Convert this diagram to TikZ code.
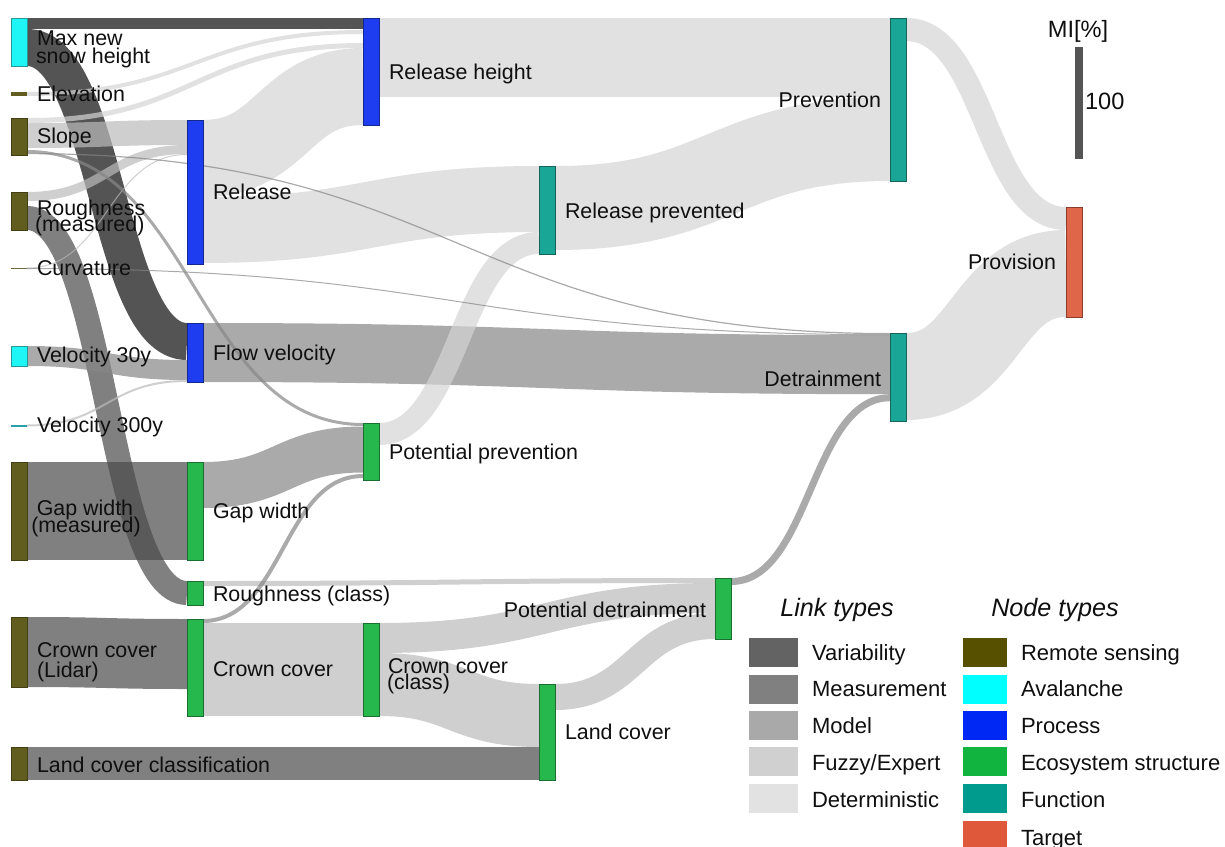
\documentclass[tikz,border=0pt]{standalone}
\usepackage{fontspec}
\setmainfont{Liberation Sans}
\usetikzlibrary{calc}
\pgfdeclarelayer{background}
\pgfsetlayers{background,main}

% node fills and borders
\definecolor{rsFill}{RGB}{96,93,30}\definecolor{rsDraw}{RGB}{66,64,18}
\definecolor{avFill}{RGB}{30,246,246}\definecolor{avDraw}{RGB}{40,150,150}
\definecolor{prFill}{RGB}{30,60,240}\definecolor{prDraw}{RGB}{20,40,140}
\definecolor{ecFill}{RGB}{38,184,76}\definecolor{ecDraw}{RGB}{25,110,50}
\definecolor{fnFill}{RGB}{26,166,150}\definecolor{fnDraw}{RGB}{20,100,90}
\definecolor{tgFill}{RGB}{224,102,74}\definecolor{tgDraw}{RGB}{140,60,45}
\definecolor{vtFill}{RGB}{40,160,165}
% link colours (drawn at 70% opacity)
\definecolor{cVar}{RGB}{12,12,12}
\definecolor{cMeas}{RGB}{74,74,74}
\definecolor{cModel}{RGB}{134,134,134}
\definecolor{cFuzzy}{RGB}{186,186,186}
\definecolor{cDet}{RGB}{212,212,212}
% legend swatches
\definecolor{sVar}{RGB}{99,99,99}
\definecolor{sMeas}{RGB}{128,128,128}
\definecolor{sModel}{RGB}{169,169,169}
\definecolor{sFuzzy}{RGB}{208,208,208}
\definecolor{sDet}{RGB}{226,226,226}
\definecolor{sRs}{RGB}{87,80,0}
\definecolor{sAv}{RGB}{0,255,255}
\definecolor{sPr}{RGB}{0,40,245}
\definecolor{sEc}{RGB}{16,180,62}
\definecolor{sFn}{RGB}{0,155,140}
\definecolor{sTg}{RGB}{224,88,58}
\definecolor{txt}{RGB}{15,15,15}
\definecolor{scalebar}{RGB}{85,85,85}

\tikzset{
  bar/.style={rectangle, inner sep=0pt, outer sep=0pt, minimum width=8pt,
    anchor=north west, line width=0.5pt},
  len/.style={minimum height=#1*0.5pt},
  rsn/.style={bar, fill=rsFill, draw=rsDraw},
  avn/.style={bar, fill=avFill, draw=avDraw},
  prn/.style={bar, fill=prFill, draw=prDraw},
  ecn/.style={bar, fill=ecFill, draw=ecDraw},
  fnn/.style={bar, fill=fnFill, draw=fnDraw},
  tgn/.style={bar, fill=tgFill, draw=tgDraw},
  lnk/.style={draw opacity=0.7, line cap=butt},
  var/.style={lnk, draw=cVar},
  meas/.style={lnk, draw=cMeas},
  model/.style={lnk, draw=cModel},
  fuzzy/.style={lnk, draw=cFuzzy},
  det/.style={lnk, draw=cDet},
  lbl/.style={inner sep=0pt, outer sep=0pt, anchor=base west, text=txt,
    font=\fontsize{10.7}{12}\selectfont},
  lblr/.style={lbl, anchor=base east},
  lblc/.style={lbl, anchor=base},
  leglbl/.style={lbl, font=\fontsize{11}{13}\selectfont},
  legtitle/.style={lbl, anchor=base, font=\fontsize{12.6}{14}\selectfont\itshape},
  swatch/.style={rectangle, inner sep=0pt, outer sep=0pt, anchor=north west,
    minimum height=14.5pt},
}

% sankey link as a thick stroked curve: style, source node, offset below
% its top, target node, offset below its top, link width (pixel units)
\newcommand\sankeylink[6]{%
  \draw[#1, line width=#6*0.5pt] let
    \p1=($(#2.north east)+(0,#3+#6/2)$), \p2=($(#4.north west)+(0,#5+#6/2)$),
    \p5=($(\p1)!0.5!(\p2)$) in
    (\p1) .. controls (\x5,\y1) and (\x5,\y2) .. (\p2);}

\begin{document}
\begin{tikzpicture}[x=0.5pt, y=-0.5pt]
\useasboundingbox (0,0) rectangle (1225,846);

% ---------- nodes ----------
% column 1
\node[avn, len=48] (msh) at (11,18) {};
\node[rsn, len=4, draw=none] (elev) at (11,92) {};
\node[rsn, len=37] (slope) at (11,118) {};
\node[rsn, len=38] (rough) at (11,192) {};
\node[rsn, len=1.5, draw=none, fill=rsFill!70!gray] (curv) at (11,267.5) {};
\node[avn, len=20] (v30) at (11,346) {};
\node[avn, len=2.5, draw=none, fill=vtFill] (v300) at (11,424.5) {};
\node[rsn, len=98] (gapm) at (11,462) {};
\node[rsn, len=70] (ccl) at (11,617) {};
\node[rsn, len=33] (lcc) at (11,747) {};
% column 2
\node[prn, len=144] (rel) at (187,120) {};
\node[prn, len=59] (flow) at (187,323) {};
\node[ecn, len=98] (gap) at (187,462) {};
\node[ecn, len=24] (rcl) at (187,581) {};
\node[ecn, len=97] (cc) at (187,619) {};
% column 3
\node[prn, len=107] (relh) at (363,18) {};
\node[ecn, len=57] (pp) at (363,423) {};
\node[ecn, len=93] (ccc) at (363,623) {};
% column 4
\node[fnn, len=88] (relp) at (539,166) {};
\node[ecn, len=96] (lc) at (539,684) {};
% column 5
\node[ecn, len=61] (pd) at (715,578) {};
% column 6
\node[fnn, len=163] (prev) at (890,18) {};
\node[fnn, len=88] (detr) at (890,333) {};
% column 7
\node[tgn, len=110] (prov) at (1066,207) {};

% ---------- links ----------
\begin{pgfonlayer}{background}
% variability
\sankeylink{var}{msh}{0}{relh}{0}{10.5}
\sankeylink{var}{msh}{11}{flow}{0}{37}
% measurement
\sankeylink{meas}{rough}{14}{rcl}{0}{24}
\sankeylink{meas}{gapm}{0}{gap}{0}{98}
\sankeylink{meas}{ccl}{0}{cc}{0}{70}
\sankeylink{meas}{lcc}{0}{lc}{63}{33}
% model
\sankeylink{model}{v30}{0}{flow}{37}{20}
\sankeylink{model}{flow}{0}{detr}{2.2}{59}
\sankeylink{model}{gap}{0}{pp}{3.5}{46}
\sankeylink{model}{pd}{0}{detr}{61.2}{7}
% fuzzy / expert
\sankeylink{fuzzy}{slope}{5}{rel}{0}{25}
\sankeylink{fuzzy}{rough}{0}{rel}{25}{9}
\sankeylink{fuzzy}{cc}{4}{ccc}{0}{93}
\sankeylink{fuzzy}{ccc}{0}{pd}{5}{30}
\sankeylink{fuzzy}{ccc}{30}{lc}{0}{63}
\sankeylink{fuzzy}{lc}{0}{pd}{35}{26}
\sankeylink{fuzzy}{rcl}{0}{pd}{0}{5}
% deterministic
\sankeylink{det}{elev}{0}{relh}{12}{4}
\sankeylink{det}{slope}{0}{relh}{25}{5}
\sankeylink{det}{rel}{0}{relh}{30}{77}
\sankeylink{det}{rel}{77}{relp}{0}{66}
\sankeylink{det}{pp}{0}{relp}{66}{22}
\sankeylink{det}{relh}{0}{prev}{0}{79}
\sankeylink{det}{relp}{0}{prev}{79}{84}
\sankeylink{det}{prev}{0}{prov}{0}{23}
\sankeylink{det}{detr}{0}{prov}{23}{87}
% thin links
\sankeylink{fuzzy}{curv}{0}{rel}{34}{1}
\sankeylink{fuzzy}{v300}{0}{flow}{57}{2}
\sankeylink{model}{slope}{32}{pp}{0}{3}
\sankeylink{model}{cc}{0}{pp}{51}{4}
\sankeylink{model}{slope}{35}{detr}{0}{1.2}
\sankeylink{model}{curv}{0.5}{detr}{1.2}{1}
\end{pgfonlayer}

% ---------- labels ----------
\node[lbl] (t-msh1) at (37,46) {Max new};
\node[lbl] (t-msh2) at (36,63) {snow height};
\node[lbl] (t-elev) at (37,101) {Elevation};
\node[lbl] (t-slope) at (37,143.5) {Slope};
\node[lbl] (t-rough1) at (37,215) {Roughness};
\node[lbl] (t-rough2) at (35,231.5) {(measured)};
\node[lbl] (t-curv) at (37,275.5) {Curvature};
\node[lbl] (t-v30) at (37,362.5) {Velocity 30y};
\node[lbl] (t-v300) at (37,432.5) {Velocity 300y};
\node[lblc] (t-gapm1) at (85,515.5) {Gap width};
\node[lblc] (t-gapm2) at (86,532) {(measured)};
\node[lbl] (t-ccl1) at (37,657) {Crown cover};
\node[lbl] (t-ccl2) at (37,677) {(Lidar)};
\node[lbl] (t-lcc) at (37,772) {Land cover classification};

\node[lbl] (t-rel) at (213,199.5) {Release};
\node[lbl] (t-flow) at (213,360) {Flow velocity};
\node[lbl] (t-gap) at (213,518.5) {Gap width};
\node[lbl] (t-rcl) at (213,601) {Roughness (class)};
\node[lbl] (t-cc) at (213,676) {Crown cover};

\node[lbl] (t-relh) at (389,79) {Release height};
\node[lbl] (t-pp) at (389,459) {Potential prevention};
\node[lbl] (t-ccc1) at (388,673) {Crown cover};
\node[lbl] (t-ccc2) at (387,689.5) {(class)};

\node[lbl] (t-relp) at (565,218.5) {Release prevented};
\node[lbl] (t-lc) at (565,739.5) {Land cover};

\node[lblr] (t-pd) at (706,617) {Potential detrainment};
\node[lblr] (t-prev) at (881,107) {Prevention};
\node[lblr] (t-detr) at (881,386) {Detrainment};
\node[lblr] (t-prov) at (1056,269.5) {Provision};

% ---------- scale ----------
\node[rectangle, inner sep=0pt, outer sep=0pt, anchor=north west, fill=scalebar,
  minimum width=4pt, minimum height=56pt] (mibar) at (1075,47) {};
\node[lblc, font=\fontsize{11.8}{13}\selectfont] (t-mi) at (1078,37.5) {MI[\%]};
\node[lbl, font=\fontsize{11.8}{13}\selectfont] (t-100) at (1085,109.5) {100};

% ---------- legend ----------
\node[legtitle] (lt-link) at (837,616) {Link types};
\node[legtitle] (lt-node) at (1055,616) {Node types};

\node[swatch, minimum width=24.5pt, fill=sVar] (sw-var) at (749,638) {};
\node[swatch, minimum width=24.5pt, fill=sMeas] (sw-meas) at (749,675) {};
\node[swatch, minimum width=24.5pt, fill=sModel] (sw-model) at (749,711) {};
\node[swatch, minimum width=24.5pt, fill=sFuzzy] (sw-fuzzy) at (749,747) {};
\node[swatch, minimum width=24.5pt, fill=sDet] (sw-det) at (749,784) {};
\node[leglbl] (lg-var) at (812,660) {Variability};
\node[leglbl] (lg-meas) at (812,696.5) {Measurement};
\node[leglbl] (lg-model) at (812,733) {Model};
\node[leglbl] (lg-fuzzy) at (812,770) {Fuzzy/Expert};
\node[leglbl] (lg-det) at (812,807) {Deterministic};

\node[swatch, minimum width=22pt, fill=sRs] (sw-rs) at (963,638) {};
\node[swatch, minimum width=22pt, fill=sAv] (sw-av) at (963,675) {};
\node[swatch, minimum width=22pt, fill=sPr] (sw-pr) at (963,711) {};
\node[swatch, minimum width=22pt, fill=sEc] (sw-ec) at (963,747) {};
\node[swatch, minimum width=22pt, fill=sFn] (sw-fn) at (963,784) {};
\node[swatch, minimum width=22pt, fill=sTg] (sw-tg) at (963,821) {};
\node[leglbl] (lg-rs) at (1021,660) {Remote sensing};
\node[leglbl] (lg-av) at (1021,696.5) {Avalanche};
\node[leglbl] (lg-pr) at (1021,733) {Process};
\node[leglbl] (lg-ec) at (1021,770) {Ecosystem structure};
\node[leglbl] (lg-fn) at (1021,807) {Function};
\node[leglbl] (lg-tg) at (1021,845) {Target};
\end{tikzpicture}
\end{document}
